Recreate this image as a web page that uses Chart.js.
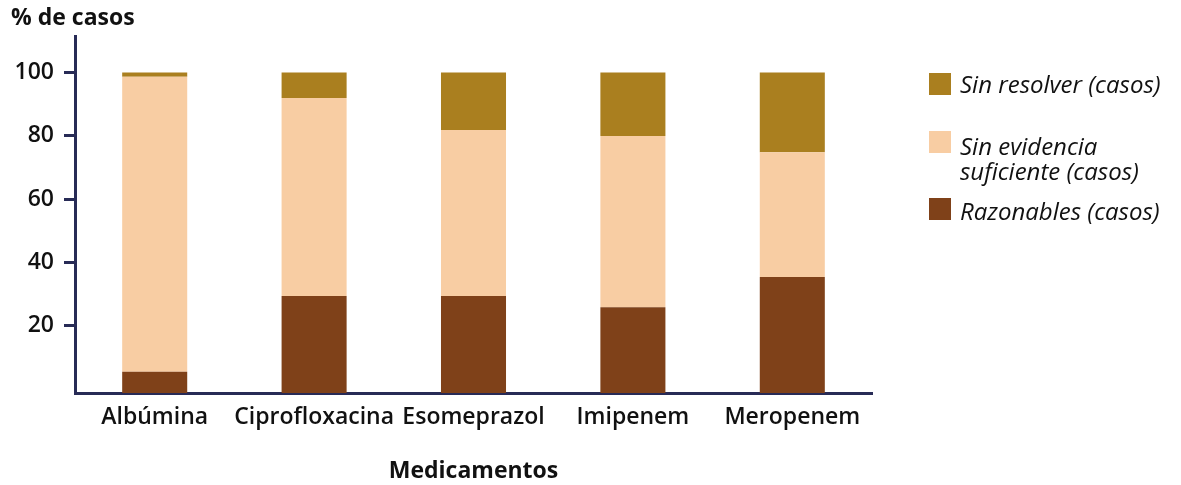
<!DOCTYPE html>
<html lang="es">
<head>
<meta charset="utf-8">
<title>Medicamentos – % de casos</title>
<script src="https://cdn.jsdelivr.net/npm/chart.js@4/dist/chart.umd.min.js"></script>
<style>
  html, body { margin: 0; padding: 0; background: #ffffff; }
  #wrap { position: relative; width: 1181px; height: 485px; }
  #chart { position: absolute; left: 0; top: 0; }
  .legend { position: absolute; left: 929px; top: 0; width: 252px; height: 240px; font-family: "Open Sans", sans-serif; font-style: italic; font-size: 24px; color: #111; }
  .legend .box { position: absolute; left: 0; width: 22px; height: 22px; }
  .legend .txt { position: absolute; left: 31px; line-height: 25px; white-space: nowrap; }
</style>
</head>
<body>
<div id="wrap">
  <canvas id="chart" width="1181" height="485"></canvas>
  <div class="legend" id="legend"></div>
</div>
<script>
// Categories and series (% of cases per drug)
const categories = ['Albúmina', 'Ciprofloxacina', 'Esomeprazol', 'Imipenem', 'Meropenem'];
const razonables = [5.5, 29.4, 29.4, 25.9, 35.4];
const sinEvidencia = [93.1, 62.5, 52.4, 54.0, 39.4];
const sinResolver = [1.4, 8.1, 18.2, 20.1, 25.2];
const yTickValues = [20, 40, 60, 80, 100];

const seriesNames = ['Razonables (casos)', 'Sin evidencia suficiente (casos)', 'Sin resolver (casos)'];
const seriesColors = ['#7f4119', '#f8cda3', '#aa7f1f'];

const axisColor = '#282b56';
const textColor = '#111111';
const baseFont = '"Open Sans", sans-serif';
const yMin = -1.2;
const yMax = 111.5;

// Y axis heading drawn at the top-left corner
const yHeading = {
  id: 'yHeading',
  afterDraw(chart) {
    const ctx = chart.ctx;
    ctx.save();
    ctx.font = '700 23px ' + baseFont;
    ctx.fillStyle = textColor;
    ctx.textAlign = 'left';
    ctx.textBaseline = 'middle';
    ctx.fillText('% de casos', 11, 18);
    ctx.restore();
  }
};

const chart = new Chart(document.getElementById('chart'), {
  type: 'bar',
  data: {
    labels: categories,
    datasets: [
      // bottom segment rests on the axis line
      { label: seriesNames[0], data: razonables, backgroundColor: seriesColors[0], base: yMin },
      { label: seriesNames[1], data: sinEvidencia, backgroundColor: seriesColors[1] },
      { label: seriesNames[2], data: sinResolver, backgroundColor: seriesColors[2] }
    ]
  },
  options: {
    responsive: false,
    animation: false,
    layout: { padding: { left: 0, right: 309, top: 36, bottom: 0 } },
    datasets: { bar: { categoryPercentage: 1, barPercentage: 0.408, borderWidth: 0 } },
    plugins: { legend: { display: false }, tooltip: { enabled: false } },
    scales: {
      x: {
        stacked: true,
        grid: { display: false, drawTicks: false },
        border: { display: true, color: axisColor, width: 3 },
        ticks: { color: textColor, font: { family: baseFont, size: 23, weight: '600' }, padding: 11, maxRotation: 0, autoSkip: false },
        title: { display: true, text: 'Medicamentos', color: textColor, font: { family: baseFont, size: 23, weight: '700' }, padding: { top: 0, bottom: 0 } },
        afterFit(scale) { scale.height = 92; }
      },
      y: {
        stacked: true,
        min: yMin,
        max: yMax,
        grid: { drawOnChartArea: false, drawTicks: true, tickLength: 11, tickWidth: 3, tickColor: axisColor },
        border: { display: true, color: axisColor, width: 3 },
        ticks: { color: textColor, font: { family: baseFont, size: 23, weight: '600' }, padding: 10, stepSize: 20 },
        afterBuildTicks(scale) { scale.ticks = yTickValues.map(v => ({ value: v })); },
        afterFit(scale) { scale.width = 75; }
      }
    }
  },
  plugins: [yHeading]
});

// Legend on the right, listed from the top segment down
const legendEl = document.getElementById('legend');
const legendRows = [
  { idx: 2, lines: ['Sin resolver (casos)'], boxTop: 73, textTop: 71 },
  { idx: 1, lines: ['Sin evidencia', 'suficiente (casos)'], boxTop: 131, textTop: 133 },
  { idx: 0, lines: ['Razonables (casos)'], boxTop: 198, textTop: 198 }
];
legendRows.forEach(r => {
  const box = document.createElement('div');
  box.className = 'box';
  box.style.top = r.boxTop + 'px';
  box.style.background = seriesColors[r.idx];
  legendEl.appendChild(box);
  const txt = document.createElement('div');
  txt.className = 'txt';
  txt.style.top = r.textTop + 'px';
  txt.innerHTML = r.lines.join('<br>');
  legendEl.appendChild(txt);
});
</script>
</body>
</html>
